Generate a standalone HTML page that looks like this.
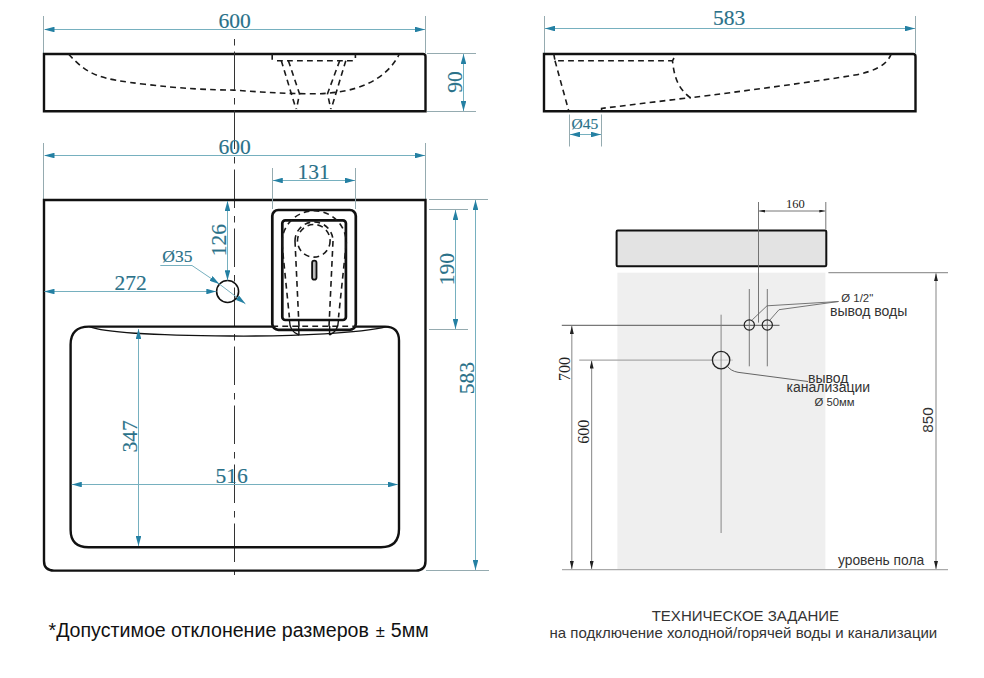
<!DOCTYPE html>
<html><head><meta charset="utf-8">
<style>
html,body{margin:0;padding:0;background:#fff;}
body{width:984px;height:678px;overflow:hidden;position:relative;}
svg{position:absolute;left:0;top:0;}
.ob{fill:none;stroke:#111;stroke-width:2.4;}
.ds{fill:none;stroke:#1a1a1a;stroke-width:1.6;stroke-dasharray:5.8 4.2;}
.ext{fill:none;stroke:#95abb0;stroke-width:1;}
.dim{fill:none;stroke:#76b0bf;stroke-width:1;}
.ar{fill:#207a96;}
.num{font-family:"Liberation Serif",serif;fill:#2a7189;font-size:21.5px;stroke:#2a7189;stroke-width:0.15;}
.cl{fill:none;stroke:#333;stroke-width:1;stroke-dasharray:6.5 6 38.5 8;}
.gl{fill:none;stroke:#666;stroke-width:0.9;}
.gt{font-family:"Liberation Sans",sans-serif;fill:#333;font-size:13px;}
.gs{font-family:"Liberation Serif",serif;fill:#222;font-size:14px;}
.gl2{fill:none;stroke:#999;stroke-width:1.2;}
</style></head><body>
<svg width="984" height="678" viewBox="0 0 984 678">
<defs>
<marker id="a" viewBox="0 0 10 5.6" refX="10" refY="2.8" markerWidth="10" markerHeight="5.6" markerUnits="userSpaceOnUse" orient="auto-start-reverse"><path d="M0,0 L10,2.8 L0,5.6 Z" fill="#2480a3"/></marker>
<marker id="k" viewBox="0 0 6 3" refX="6" refY="1.5" markerWidth="6" markerHeight="3" markerUnits="userSpaceOnUse" orient="auto-start-reverse"><path d="M0,0 L6,1.5 L0,3 Z" fill="#222"/></marker>
<marker id="k2" viewBox="0 0 8 4" refX="8" refY="2" markerWidth="8" markerHeight="4" markerUnits="userSpaceOnUse" orient="auto-start-reverse"><path d="M0,0 L8,2 L0,4 Z" fill="#222"/></marker>
</defs>

<!-- ===== TOP-LEFT SIDE VIEW ===== -->
<line class="ext" x1="43.5" y1="16" x2="43.5" y2="53"/>
<line class="ext" x1="425.5" y1="16" x2="425.5" y2="53"/>
<line class="dim" x1="44.5" y1="29.5" x2="425" y2="29.5" marker-start="url(#a)" marker-end="url(#a)"/>
<text class="num" x="234.5" y="27.8" text-anchor="middle">600</text>
<path class="ob" d="M44,54 H423 Q425.5,54 425.5,56.5 V111.2 H44 Z"/>
<path class="ds" d="M68.5,54 C88.5,76 100,78.9 145,84.3 C180,88.5 210,90 234,90.1 C260,92 285,93.7 312,93.8 C357,94 386,80 399.4,54"/>
<path class="ds" d="M272.2,54 V60.5 M277,60.7 H354.5 M355.4,54 V58"/>
<path class="ds" d="M281.3,60.7 L296,109 M288.4,60.7 L299.5,93.7 L296.5,109 M345.8,60.7 L331.2,109 M339.7,60.7 L327.5,93.7 L330.8,109"/>
<line class="ext" x1="427" y1="53.5" x2="476" y2="53.5"/>
<line class="ext" x1="427" y1="111.5" x2="476" y2="111.5"/>
<line class="dim" x1="463.5" y1="54" x2="463.5" y2="111" marker-start="url(#a)" marker-end="url(#a)"/>
<text class="num" transform="translate(461.9,82) rotate(-90)" text-anchor="middle">90</text>

<!-- centerline -->
<line class="cl" x1="234.5" y1="39" x2="234.5" y2="575"/>

<!-- ===== PLAN VIEW ===== -->
<line class="ext" x1="43.5" y1="143" x2="43.5" y2="199"/>
<line class="ext" x1="425.5" y1="143" x2="425.5" y2="199"/>
<line class="dim" x1="44.5" y1="155.5" x2="425" y2="155.5" marker-start="url(#a)" marker-end="url(#a)"/>
<text class="num" x="234.5" y="153.5" text-anchor="middle">600</text>
<path class="ob" d="M44,200 H425.5 V561 Q425.5,570.6 416,570.6 H54 Q44,570.6 44,561 Z"/>

<!-- 131 -->
<line class="ext" x1="272.5" y1="168" x2="272.5" y2="209"/>
<line class="ext" x1="355.5" y1="168" x2="355.5" y2="209"/>
<line class="dim" x1="272.8" y1="180.5" x2="355" y2="180.5" marker-start="url(#a)" marker-end="url(#a)"/>
<text class="num" x="313.6" y="178.8" text-anchor="middle">131</text>

<!-- basin -->
<path class="ob" d="M89,326.6 H272 M356,326.6 H385 Q399,326.6 399,340.6 V529 Q399,547.2 381,547.2 H88.5 Q70.6,547.2 70.6,529.7 V344.6 Q70.6,326.6 89,326.6"/>
<path fill="none" stroke="#111" stroke-width="1.3" d="M89.5,326.7 C105,333 150,335.5 230,336 C300,336.5 360,333 387,326.7"/>

<!-- faucet -->
<rect class="ob" x="272.3" y="210" width="83.5" height="119.8" rx="6" style="stroke-width:2.7"/>
<rect class="ob" x="282.3" y="220.3" width="63.6" height="99.7" rx="3" style="stroke-width:2.7"/>
<path class="ds" d="M272.3,326.3 H356"/>
<path class="ds" d="M281.9,243 A32.2,32.2 0 0 1 346.3,243"/>
<path class="ds" d="M281.9,243 L289.4,317.4 M346.3,243 L338.5,317.4"/>
<path fill="none" stroke="#111" stroke-width="1.4" d="M289.4,320 C289.6,328 292,332.5 299,335 M338.5,320 C338.3,328 336,332.5 329.5,335 M298.6,326 L299,335 M329.7,326 L329.5,335"/>
<path class="ds" d="M295,241 A19,19 0 0 1 333,241"/>
<circle class="ds" cx="313.8" cy="240.8" r="16.3"/>
<path class="ds" d="M295,241 L299,326.6 M333,241 L329,326.6"/>
<rect x="312.1" y="260.6" width="4.4" height="19" rx="2.2" fill="#bbb" stroke="#111" stroke-width="1.8"/>

<!-- hole -->
<circle cx="227.6" cy="291.5" r="11" fill="none" stroke="#111" stroke-width="1.6"/>
<line class="dim" x1="227.5" y1="201" x2="227.5" y2="280.3" marker-start="url(#a)" marker-end="url(#a)"/>
<text class="num" transform="translate(226,240.1) rotate(-90)" text-anchor="middle">126</text>
<line class="dim" x1="44.5" y1="291.5" x2="216.3" y2="291.5" marker-start="url(#a)" marker-end="url(#a)"/>
<text class="num" x="130.6" y="290" text-anchor="middle">272</text>
<path class="dim" d="M160.3,265.5 H192 L219.3,284" marker-end="url(#a)"/>
<path class="dim" d="M219.3,284 L245.4,303.8" marker-end="url(#a)"/>
<text class="num" x="177.4" y="261.6" text-anchor="middle" style="font-size:17.5px">Ø35</text>

<!-- 190 / 583 -->
<line class="ext" x1="429" y1="199.5" x2="488" y2="199.5"/>
<line class="ext" x1="429" y1="209.5" x2="468" y2="209.5"/>
<line class="ext" x1="429" y1="329.5" x2="468" y2="329.5"/>
<line class="ext" x1="426" y1="570.5" x2="489" y2="570.5"/>
<line class="dim" x1="455.5" y1="210" x2="455.5" y2="329" marker-start="url(#a)" marker-end="url(#a)"/>
<text class="num" transform="translate(454,269.2) rotate(-90)" text-anchor="middle">190</text>
<line class="dim" x1="475.5" y1="200" x2="475.5" y2="570" marker-start="url(#a)" marker-end="url(#a)"/>
<text class="num" transform="translate(474,378) rotate(-90)" text-anchor="middle">583</text>

<!-- 347 / 516 -->
<line class="dim" x1="138.5" y1="329" x2="138.5" y2="546" marker-start="url(#a)" marker-end="url(#a)"/>
<text class="num" transform="translate(136.6,436.4) rotate(-90)" text-anchor="middle">347</text>
<line class="dim" x1="71.8" y1="484.5" x2="398" y2="484.5" marker-start="url(#a)" marker-end="url(#a)"/>
<text class="num" x="231.6" y="482.6" text-anchor="middle">516</text>

<!-- ===== TOP-RIGHT SIDE VIEW ===== -->
<line class="ext" x1="544.5" y1="16" x2="544.5" y2="53"/>
<line class="ext" x1="915.5" y1="16" x2="915.5" y2="53"/>
<line class="dim" x1="545" y1="28.5" x2="915" y2="28.5" marker-start="url(#a)" marker-end="url(#a)"/>
<text class="num" x="729.1" y="25.4" text-anchor="middle">583</text>
<path class="ob" d="M544,54 H913 Q915.5,54 915.5,56.5 V111.2 H544 Z"/>
<path class="ds" d="M553.8,54 L555,60.8 H672.5 M555,60.8 L568.5,110 M674,58 L672.5,60.8 C674,75 677,88 690.4,97.8 C740,91.5 820,81 855,75 C874,71.5 887,65 891,54.4"/>
<path class="ds" d="M601.6,110 V108.4 L691,97.5"/>
<line class="ext" x1="569.5" y1="114.5" x2="569.5" y2="146.5"/>
<line class="ext" x1="601.5" y1="114.5" x2="601.5" y2="146.5"/>
<line class="dim" x1="570" y1="134.5" x2="601" y2="134.5" marker-start="url(#a)" marker-end="url(#a)"/>
<text class="num" x="584.9" y="128.6" text-anchor="middle" style="font-size:15.5px">Ø45</text>

<!-- ===== INSTALL DIAGRAM ===== -->
<rect x="617.4" y="272.7" width="208" height="296.9" fill="#efefef"/>
<rect x="616.6" y="230.6" width="209.7" height="35.6" rx="1.2" fill="#e3e3e3" stroke="#111" stroke-width="2"/>
<line class="gl" x1="758.5" y1="202" x2="758.5" y2="322.6"/>
<line class="gl" x1="825.8" y1="202" x2="825.8" y2="229.5"/>
<line class="gl" x1="759" y1="211" x2="825.3" y2="211" marker-start="url(#k)" marker-end="url(#k)"/>
<text class="gs" x="795.3" y="207.7" text-anchor="middle" style="font-size:12.5px">160</text>

<line class="gl2" x1="828.4" y1="272.7" x2="948" y2="272.7"/>
<line class="gl2" x1="936" y1="273.2" x2="936" y2="569" marker-start="url(#k2)" marker-end="url(#k2)"/>
<text class="gt" transform="translate(933,420.1) rotate(-90)" text-anchor="middle" style="font-size:15.3px">850</text>
<line stroke="#aaa" stroke-width="1.3" x1="562" y1="569.6" x2="948" y2="569.6"/>
<text class="gt" x="838" y="564.6" style="font-size:13.8px">уровень пола</text>

<line stroke="#444" stroke-width="0.9" x1="561.8" y1="325.3" x2="779.5" y2="325.3"/>
<line class="gl2" x1="571.8" y1="326" x2="571.8" y2="569" marker-start="url(#k2)" marker-end="url(#k2)"/>
<text class="gs" transform="translate(569.6,369.1) rotate(-90)" text-anchor="middle" style="font-size:16px">700</text>
<line stroke="#a8a8a8" stroke-width="1.3" x1="579.2" y1="360.1" x2="712.5" y2="360.1"/><line stroke="#c8c8c8" stroke-width="1" x1="712.5" y1="360.1" x2="733" y2="360.1"/>
<line class="gl2" x1="591.6" y1="360.5" x2="591.6" y2="569" marker-start="url(#k2)" marker-end="url(#k2)"/>
<text class="gs" transform="translate(588.9,431.7) rotate(-90)" text-anchor="middle" style="font-size:16px">600</text>

<line stroke="#6a6a6a" stroke-width="0.9" x1="749.3" y1="289" x2="749.3" y2="366.3"/>
<line stroke="#6a6a6a" stroke-width="0.9" x1="767.3" y1="289" x2="767.3" y2="366.3"/>
<circle cx="749.3" cy="325" r="5.1" fill="none" stroke="#222" stroke-width="1.2"/>
<circle cx="767.3" cy="325" r="5.1" fill="none" stroke="#222" stroke-width="1.2"/>
<line stroke="#7a7a7a" stroke-width="0.9" x1="721.1" y1="314.7" x2="721.1" y2="533"/>
<circle cx="721.1" cy="360.1" r="8.7" fill="none" stroke="#222" stroke-width="1.3"/>
<path class="gl" d="M838.5,301.5 L767,305.8 L752.2,319.9 M838.5,301.5 L779,309.7 L769.8,320.2"/>
<path fill="none" stroke="#555" stroke-width="0.9" d="M726.8,365.5 Q730.5,371 738,372.3 L808,381.5"/>
<text class="gt" x="841.3" y="301.8" style="font-size:11.4px">Ø 1/2"</text>
<text class="gt" x="830" y="315.5" style="font-size:14px">вывод воды</text>
<text class="gt" x="808" y="382.8" style="font-size:14px">вывод</text>
<text class="gt" x="786.6" y="391.9" style="font-size:14px">канализации</text>
<text class="gt" x="814.5" y="405.6" style="font-size:11.3px">Ø 50мм</text>

<!-- bottom texts -->
<text x="48.5" y="636.5" style='font-family:"Liberation Sans",sans-serif;font-size:19.6px;fill:#111'>*Допустимое отклонение размеров <tspan style="font-size:16.5px" dx="1.5">±</tspan><tspan dx="0.5"> 5мм</tspan></text>
<text x="745.4" y="621.3" text-anchor="middle" style='font-family:"Liberation Sans",sans-serif;font-size:15px;fill:#333'>ТЕХНИЧЕСКОЕ ЗАДАНИЕ</text>
<text x="743.4" y="637.6" text-anchor="middle" style='font-family:"Liberation Sans",sans-serif;font-size:15px;fill:#333'>на подключение холодной/горячей воды и канализации</text>
</svg>
</body></html>
